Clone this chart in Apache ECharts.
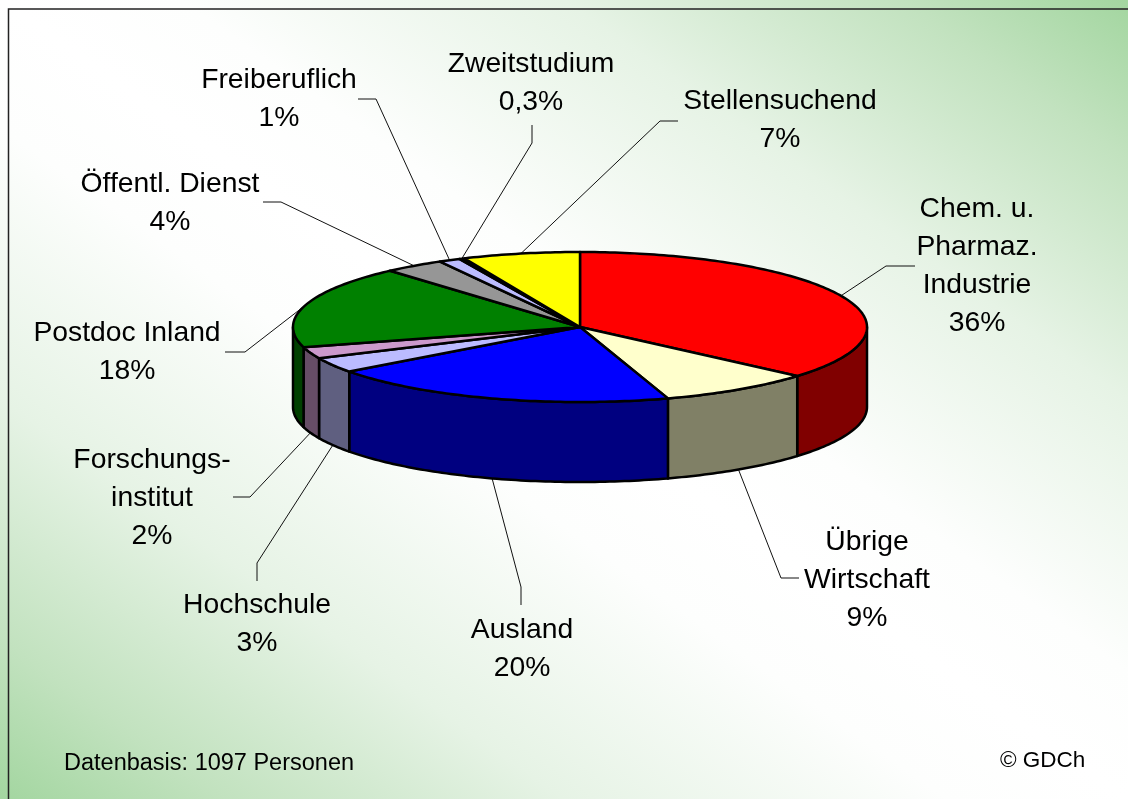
<!DOCTYPE html>
<html>
<head>
<meta charset="utf-8">
<style>html,body{margin:0;padding:0}#main{width:1128px;height:799px}</style>
<script src="https://cdn.jsdelivr.net/npm/echarts@6/dist/echarts.min.js"></script>
</head>
<body>
<div id="main"></div>
<script>
// Werte, im Uhrzeigersinn ab 12 Uhr
var categories = ['Chem. u.\nPharmaz.\nIndustrie', 'Übrige\nWirtschaft', 'Ausland', 'Hochschule', 'Forschungs-\ninstitut', 'Postdoc Inland', 'Öffentl. Dienst', 'Freiberuflich', 'Zweitstudium', 'Stellensuchend'];
var shares = [36.3, 8.7, 19.8, 3.3, 2.5, 17.8, 3.4, 1.2, 0.3, 6.6];
var shareLabels = ['36%', '9%', '20%', '3%', '2%', '18%', '4%', '1%', '0,3%', '7%'];

var topColors = ['#ff0000', '#ffffcc', '#0000ff', '#bbbbff', '#cc99cc', '#008000', '#969696', '#bbbbff', '#000000', '#ffff00'];
var wallColors = ['#800000', '#808066', '#000080', '#5f5f80', '#664d66', '#004000', '#4b4b4b', '#5f5f80', '#000000', '#808000'];

// Beschriftung: Mitte x, y der ersten Zeile
var labelPos = [[977, 207], [867, 540], [522, 628], [257, 603], [152, 458], [127, 331], [170, 182], [279, 78], [531, 62], [780, 99]];
// Knickpunkte der Führungslinien
var leaderPts = [
    [[886, 266], [915, 266]],
    [[781, 578], [799, 578]],
    [[521, 587], [521, 605]],
    [[257, 563], [257, 581]],
    [[250, 497], [233, 497]],
    [[245, 352], [225, 352]],
    [[281, 202], [263, 202]],
    [[376, 99], [358, 99]],
    [[532, 143], [532, 125]],
    [[660, 121], [678, 121]]
];

var cx = 580, cy = 327, rx = 287, ry = 75, depth = 80;

// Winkel in Grad ab 12 Uhr
var total = shares.reduce(function (a, b) { return a + b; }, 0);
var sliceData = [];
var acc = 0;
shares.forEach(function (v, i) {
    var start = acc / total * 360;
    acc += v;
    sliceData.push([start, acc / total * 360, i]);
});

function ellPoint(deg, dy) {
    var r = deg * Math.PI / 180;
    return [cx + rx * Math.sin(r), cy - ry * Math.cos(r) + (dy || 0)];
}

function arcPoints(a, b, dy) {
    var pts = [];
    var n = Math.max(1, Math.ceil(Math.abs(b - a)));
    for (var k = 0; k <= n; k++) {
        pts.push(ellPoint(a + (b - a) * k / n, dy));
    }
    return pts;
}

function renderTop(params, api) {
    var i = api.value(2);
    var pts = [[cx, cy]].concat(arcPoints(api.value(0), api.value(1)));
    return {
        type: 'polygon',
        shape: { points: pts },
        style: { fill: topColors[i], stroke: '#000', lineWidth: 2.5, lineJoin: 'round' }
    };
}

function renderWall(params, api) {
    var i = api.value(2);
    var a = Math.max(api.value(0), 90);
    var b = Math.min(api.value(1), 270);
    if (b <= a) {
        return null;
    }
    var pts = arcPoints(a, b).concat(arcPoints(b, a, depth));
    return {
        type: 'polygon',
        shape: { points: pts },
        style: { fill: wallColors[i], stroke: '#000', lineWidth: 2.5, lineJoin: 'round' }
    };
}

function renderLabel(params, api) {
    var i = api.value(2);
    var mid = (api.value(0) + api.value(1)) / 2;
    // vorne sitzt die Linie an der Unterkante
    var from = ellPoint(mid, mid > 90 && mid < 270 ? depth : 0);
    return {
        type: 'group',
        children: [{
            type: 'polyline',
            shape: { points: [from].concat(leaderPts[i]) },
            style: { fill: null, stroke: '#111', lineWidth: 1 }
        }, {
            type: 'text',
            style: {
                text: categories[i] + '\n' + shareLabels[i],
                x: labelPos[i][0],
                y: labelPos[i][1] - 17,
                align: 'center',
                verticalAlign: 'top',
                fill: '#000',
                font: '28.3px "Liberation Sans"',
                lineHeight: 38
            }
        }]
    };
}

var option = {
    animation: false,
    backgroundColor: new echarts.graphic.LinearGradient(941, -132, 187, 931, [
        { offset: 0, color: '#a3d6a0' },
        { offset: 0.1, color: '#c2e2bf' },
        { offset: 0.25, color: '#e6f3e5' },
        { offset: 0.42, color: '#fdfefd' },
        { offset: 0.5, color: '#ffffff' },
        { offset: 0.58, color: '#fdfefd' },
        { offset: 0.75, color: '#e6f3e5' },
        { offset: 0.9, color: '#c2e2bf' },
        { offset: 1, color: '#a3d6a0' }
    ], true),
    graphic: [
        {
            type: 'polyline',
            shape: { points: [[1128, 9], [8.5, 9], [8.5, 799]] },
            style: { fill: null, stroke: '#222', lineWidth: 1.5 }
        },
        {
            type: 'text',
            style: { text: 'Datenbasis: 1097 Personen', x: 64, y: 764, verticalAlign: 'middle', fill: '#000', font: '23.5px "Liberation Sans"' }
        },
        {
            type: 'text',
            style: { text: '© GDCh', x: 1000, y: 761, verticalAlign: 'middle', fill: '#000', font: '22.5px "Liberation Sans"' }
        }
    ],
    series: [
        { type: 'custom', name: 'labels', coordinateSystem: 'none', z: 1, silent: true, data: sliceData, renderItem: renderLabel },
        { type: 'custom', name: 'walls', coordinateSystem: 'none', z: 2, silent: true, data: sliceData, renderItem: renderWall },
        { type: 'custom', name: 'slices', coordinateSystem: 'none', z: 3, silent: true, data: sliceData, renderItem: renderTop }
    ]
};

var chart = echarts.init(document.getElementById('main'));
chart.setOption(option);
</script>
</body>
</html>
